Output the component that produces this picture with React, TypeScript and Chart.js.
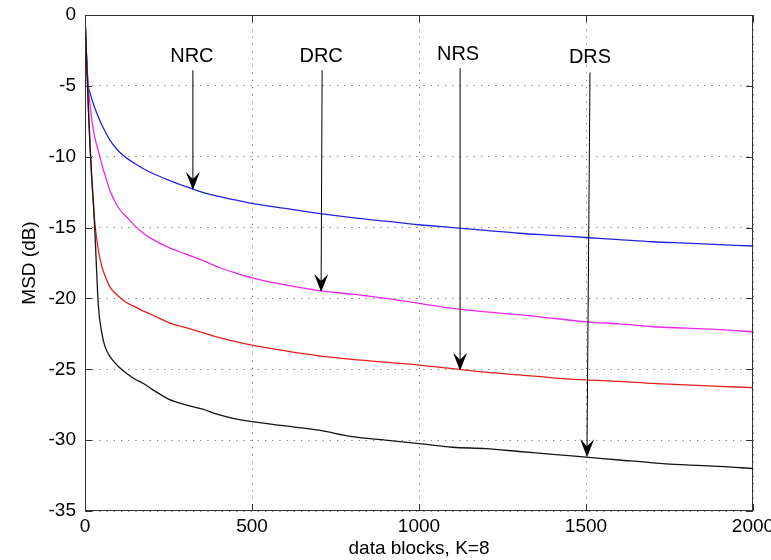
import React, { useEffect, useRef } from "react";
import { Chart, registerables } from "chart.js";

Chart.register(...registerables);

// x positions (data blocks)
const xs = [0, 5, 10, 15, 20, 25, 30, 40, 50, 60, 75, 100, 125, 150, 175, 200, 250, 300, 350, 400, 450, 500, 600, 700, 800, 900, 1000, 1100, 1200, 1300, 1400, 1500, 1600, 1700, 1800, 1900, 2000];

const nrc = [0, -3.3, -5.0, -5.5, -5.9, -6.25, -6.6, -7.2, -7.75, -8.2, -8.85, -9.6, -10.1, -10.5, -10.85, -11.15, -11.65, -12.1, -12.5, -12.8, -13.05, -13.3, -13.65, -14.0, -14.3, -14.55, -14.8, -15.0, -15.2, -15.4, -15.55, -15.7, -15.85, -16.0, -16.1, -16.2, -16.3];
const drc = [0, -3.0, -5.2, -6.3, -7.3, -8.1, -8.7, -9.6, -10.5, -11.3, -12.4, -13.6, -14.25, -14.9, -15.4, -15.8, -16.4, -16.85, -17.3, -17.8, -18.2, -18.55, -19.05, -19.45, -19.7, -20.0, -20.35, -20.7, -20.95, -21.15, -21.4, -21.65, -21.8, -22.0, -22.1, -22.2, -22.35];
const nrs = [0, -3.3, -6.5, -9.2, -11.5, -13.3, -14.8, -16.6, -17.7, -18.4, -19.2, -19.85, -20.3, -20.6, -20.9, -21.15, -21.7, -22.05, -22.4, -22.75, -23.05, -23.3, -23.7, -24.05, -24.3, -24.5, -24.7, -24.95, -25.2, -25.4, -25.6, -25.75, -25.85, -26.0, -26.1, -26.2, -26.3];
const drs = [0, -3.3, -6.5, -9.2, -11.4, -13.2, -15.5, -20.5, -22.4, -23.4, -24.1, -24.8, -25.3, -25.7, -26.0, -26.4, -27.1, -27.5, -27.8, -28.2, -28.5, -28.7, -29.0, -29.3, -29.75, -30.0, -30.25, -30.5, -30.6, -30.8, -31.0, -31.2, -31.4, -31.6, -31.75, -31.85, -32.0];

// annotations (data coordinates)
const annLabels = ["NRC", "DRC", "NRS", "DRS"];
const annLabelX = [320, 707, 1117, 1512];
const annLabelY = [-2.96, -2.96, -2.82, -3.0];
const annTailX = [323, 710, 1123, 1512];
const annTailY = [-3.9, -3.9, -3.75, -4.05];
const annTipX = [323, 707, 1123, 1503];
const annTipY = [-12.35, -19.55, -25.1, -31.2];

const FONT = "'Liberation Sans', Arial, Helvetica, sans-serif";

const boxPlugin = {
  id: "matlabBox",
  afterDatasetsDraw(chart: any) {
    const { ctx, chartArea } = chart;
    const { left, right, top, bottom } = chartArea;
    const xs_ = chart.scales.x;
    const ys_ = chart.scales.y;
    ctx.save();
    ctx.strokeStyle = "#333";
    ctx.lineWidth = 1;
    ctx.beginPath();
    ctx.rect(left + 0.5, top + 0.5, right - left - 1, bottom - top - 1);
    ctx.stroke();
    const tl = 7;
    ctx.beginPath();
    xs_.ticks.forEach((t: any) => {
      const px = Math.round(xs_.getPixelForValue(t.value)) + 0.5;
      ctx.moveTo(px, bottom);
      ctx.lineTo(px, bottom - tl);
      ctx.moveTo(px, top);
      ctx.lineTo(px, top + tl);
    });
    ys_.ticks.forEach((t: any) => {
      const py = Math.round(ys_.getPixelForValue(t.value)) + 0.5;
      ctx.moveTo(left, py);
      ctx.lineTo(left + tl, py);
      ctx.moveTo(right, py);
      ctx.lineTo(right - tl, py);
    });
    ctx.stroke();

    // annotations
    ctx.fillStyle = "#000";
    ctx.strokeStyle = "#000";
    ctx.font = `20px ${FONT}`;
    ctx.textAlign = "center";
    ctx.textBaseline = "middle";
    for (let i = 0; i < annLabels.length; i++) {
      const lx = xs_.getPixelForValue(annLabelX[i]);
      const ly = ys_.getPixelForValue(annLabelY[i]);
      ctx.fillText(annLabels[i], lx, ly);
      const tx = xs_.getPixelForValue(annTailX[i]);
      const ty = ys_.getPixelForValue(annTailY[i]);
      const hx = xs_.getPixelForValue(annTipX[i]);
      const hy = ys_.getPixelForValue(annTipY[i]);
      ctx.lineWidth = 1;
      ctx.beginPath();
      ctx.moveTo(tx, ty);
      ctx.lineTo(hx, hy - 10);
      ctx.stroke();
      const ang = Math.atan2(hy - ty, hx - tx);
      const len = 18;
      const back = 11;
      const half = 7;
      const ux = Math.cos(ang), uy = Math.sin(ang);
      const nx = -uy, ny = ux;
      ctx.beginPath();
      ctx.moveTo(hx, hy);
      ctx.lineTo(hx - ux * len + nx * half, hy - uy * len + ny * half);
      ctx.lineTo(hx - ux * back, hy - uy * back);
      ctx.lineTo(hx - ux * len - nx * half, hy - uy * len - ny * half);
      ctx.closePath();
      ctx.fill();
    }
    ctx.restore();
  },
};

export default function App() {
  const ref = useRef<HTMLCanvasElement>(null);
  useEffect(() => {
    if (!ref.current) return;
    const mk = (ys: number[]) => xs.map((x, i) => ({ x, y: ys[i] }));
    const line = (label: string, data: number[], color: string) => ({
      label,
      data: mk(data),
      borderColor: color,
      backgroundColor: color,
      borderWidth: 1.3,
      pointRadius: 0,
      fill: false,
      cubicInterpolationMode: "monotone" as const,
    });
    const chart = new Chart(ref.current, {
      type: "line",
      data: {
        datasets: [
          line("DRS", drs, "#151515"),
          line("NRS", nrs, "rgb(228,30,30)"),
          line("DRC", drc, "rgb(232,40,232)"),
          line("NRC", nrc, "rgb(35,35,225)"),
        ],
      },
      options: {
        responsive: false,
        animation: false,
        layout: { padding: { left: 0, top: 15, right: 18, bottom: 0 } },
        plugins: { legend: { display: false }, tooltip: { enabled: false } },
        scales: {
          x: {
            type: "linear",
            min: 0,
            max: 2000,
            afterFit: (s: any) => { s.height = 49; s.paddingLeft = 0; s.paddingRight = 0; },
            ticks: { stepSize: 500, color: "#000", font: { family: FONT, size: 19 }, padding: 4, maxRotation: 0, callback: (v: any) => String(v) },
            grid: { color: "#777", drawTicks: false, lineWidth: 1 },
            border: { display: false, dash: [1.2, 6] },
            title: { display: true, text: "data blocks, K=8", color: "#000", font: { family: FONT, size: 19 }, padding: { top: 0, bottom: 0 } },
          },
          y: {
            type: "linear",
            min: -35,
            max: 0,
            afterFit: (s: any) => { s.width = 85; s.paddingTop = 0; s.paddingBottom = 0; },
            ticks: { stepSize: 5, color: "#000", font: { family: FONT, size: 19 }, padding: 9, callback: (v: any) => String(v) },
            grid: { color: "#777", drawTicks: false, lineWidth: 1 },
            border: { display: false, dash: [1.2, 6] },
            title: { display: true, text: "MSD (dB)", color: "#000", font: { family: FONT, size: 19 }, padding: { top: 18, bottom: 0 } },
          },
        },
      },
      plugins: [boxPlugin],
    });
    return () => chart.destroy();
  }, []);
  return (
    <div style={{ position: "fixed", left: 0, top: 0, width: 771, height: 560, background: "#fff" }}>
      <canvas ref={ref} width={771} height={560} />
    </div>
  );
}
